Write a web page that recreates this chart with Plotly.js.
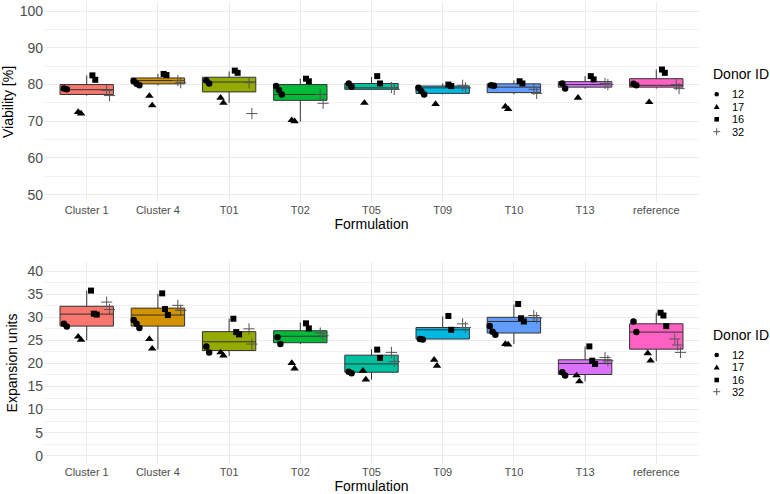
<!DOCTYPE html>
<html>
<head>
<meta charset="utf-8">
<script src="https://cdn.plot.ly/plotly-3.0.1.min.js"></script>
<style>html,body{margin:0;padding:0;background:#fff;}#chart{width:770px;height:494px;}</style>
</head>
<body>
<div id="chart"></div>
<script>
// ---------------- DATA ----------------
const categories = ['Cluster 1','Cluster 4','T01','T02','T05','T09','T10','T13','reference'];
const boxColors = ['#F8766D','#D39200','#93AA00','#00BA38','#00C19F','#00B9E3','#619CFF','#DB72FB','#FF61C3'];
const donors = ['12','17','16','32'];

// Viability [%] box statistics
const viabQ1     = [77.3, 80.2, 78.0, 75.7, 78.7, 77.6, 77.8, 79.3, 79.3];
const viabMedian = [78.6, 81.1, 80.7, 77.3, 79.1, 79.1, 79.3, 80.0, 79.8];
const viabQ3     = [80.0, 81.8, 82.0, 80.0, 80.3, 79.6, 80.2, 80.8, 81.6];
const viabLow    = [77.0, 79.8, 75.0, 69.9, 78.7, 77.3, 77.4, 78.9, 78.9];
const viabHigh   = [82.5, 82.9, 83.6, 81.6, 82.1, 80.3, 81.1, 82.3, 84.1];

// Viability points per donor, per formulation
const viab12 = [[78.9,78.7],[81.0,80.2,79.8],[81.1,80.3],[79.6,78.5,77.3],[80.3,79.4],[79.1,78.2,77.3],[79.8,79.7],[80.3,78.9],[80.2,79.8]];
const viab17 = [[72.5,72.1],[76.9,74.3],[76.4,75.0],[70.3,70.0],[75.0],[74.7],[74.0,73.3],[76.4],[75.2]];
const viab16 = [[82.5,81.3],[82.9,82.6],[83.8,83.2],[81.6,80.9],[82.3,80.3],[80.0,79.6],[80.9,80.3],[82.3,81.4],[84.1,83.2]];
const viab32 = [[78.4,77.0],[81.1,80.5],[80.5,72.1],[77.3,74.9],[79.2,78.7],[79.8,79.1],[78.7,77.6],[80.3,80.0],[80.0,78.9]];

// Expansion units box statistics
const expQ1     = [28.1, 28.1, 22.8, 24.5, 18.1, 25.3, 26.6, 17.6, 23.1];
const expMedian = [30.7, 30.5, 24.7, 25.9, 19.9, 27.3, 29.1, 20.0, 26.8];
const expQ3     = [32.4, 32.0, 26.9, 27.1, 21.8, 27.8, 30.0, 20.8, 28.6];
const expLow    = [25.0, 23.0, 21.6, 24.2, 16.5, 25.3, 24.2, 16.1, 20.5];
const expHigh   = [35.8, 35.1, 29.7, 28.9, 23.1, 30.2, 32.8, 23.7, 31.0];

// Expansion points per donor, per formulation
const exp12 = [[28.6,28.0],[29.4,28.6,27.7],[23.7,22.4],[25.7,24.2],[18.2,17.9],[25.3,25.2],[28.1,26.9,26.2],[18.1,17.4],[29.1,26.8]];
const exp17 = [[25.8,25.1],[25.3,23.2],[22.4,21.7],[20.1,18.9],[18.4,16.5],[20.8,19.5],[24.2,24.1],[17.4,16.1],[22.2,20.6]];
const exp16 = [[35.8,30.8,30.6],[35.2,31.8,30.5],[29.7,26.8,26.3],[28.7,27.6],[23.0,21.2],[30.3,27.3],[32.9,29.8,29.1],[23.7,20.6,19.9],[31.0,30.4,28.1]];
const exp32 = [[33.3,31.7],[32.6,31.5],[27.5,24.2],[26.6,26.0],[22.4,20.4],[28.6,27.8],[30.4,29.9],[21.3,20.6],[25.3,24.0,22.4]];

// ---------------- STYLE ----------------
const FONT = 'Liberation Sans, Arial, sans-serif';
const donorOffset = [-0.3, -0.1, 0.1, 0.3];
const donorMarker = [
  {symbol:'circle', size:6.5, color:'#000'},
  {symbol:'triangle-up', size:7.5, color:'#000'},
  {symbol:'square', size:6, color:'#000'},
  {symbol:'cross-thin-open', size:8, color:'#555', line:{color:'#555', width:1}}
];

const traces = [];
function addPanel(q1, med, q3, lo, hi, pts, xa, ya){
  categories.forEach((c,i)=>{
    traces.push({
      type:'box', x:[i], q1:[q1[i]], median:[med[i]], q3:[q3[i]],
      lowerfence:[lo[i]], upperfence:[hi[i]],
      width:0.75, whiskerwidth:0, boxpoints:false,
      fillcolor:boxColors[i], line:{color:'#333333', width:1},
      xaxis:xa, yaxis:ya, showlegend:false, hoverinfo:'skip', name:c
    });
  });
  pts.forEach((arr,d)=>{
    const xs=[], ys=[];
    arr.forEach((vals,i)=>{
      vals.forEach((v,j)=>{
        xs.push(i + donorOffset[d] + (j-(vals.length-1)/2)*0.04);
        ys.push(v);
      });
    });
    const m = Object.assign({}, donorMarker[d]);
    if(!m.line) m.line = {width:0};
    traces.push({type:'scatter', mode:'markers', x:xs, y:ys, marker:m,
      xaxis:xa, yaxis:ya, showlegend:false, hoverinfo:'skip', name:donors[d]});
  });
}
addPanel(viabQ1, viabMedian, viabQ3, viabLow, viabHigh, [viab12,viab17,viab16,viab32], 'x', 'y');
addPanel(expQ1, expMedian, expQ3, expLow, expHigh, [exp12,exp17,exp16,exp32], 'x2', 'y2');

const GRID = '#EBEBEB';
function xAxis(anchor){
  return {anchor:anchor, range:[-0.6, 8.6], tickmode:'array', tickvals:categories.map((c,i)=>i),
    ticktext:categories, showgrid:true, gridcolor:GRID, gridwidth:1, zeroline:false, showline:false,
    ticks:'', tickfont:{family:FONT, size:11, color:'#4D4D4D'},
    title:{text:'Formulation', font:{family:FONT, size:14, color:'#000'}, standoff:3},
    automargin:false, fixedrange:true};
}
function yAxis(anchor, range, dtick, minor, domain, title){
  return {anchor:anchor, domain:domain, range:range, dtick:dtick, tick0:0,
    showgrid:true, gridcolor:GRID, gridwidth:1, zeroline:false, showline:false, ticks:'',
    minor:{dtick:minor, tick0:0, showgrid:true, gridcolor:'#F1F1F1', gridwidth:1},
    tickfont:{family:FONT, size:14, color:'#4D4D4D'},
    title:{text:title, font:{family:FONT, size:14, color:'#000'}, standoff:6},
    automargin:false, fixedrange:true};
}

// legend drawn with shapes + annotations
const ML=44, MR=71, MT=2, MB=30, W=770, H=494;
const PW=W-ML-MR, PH=H-MT-MB;
const px=X=>(X-ML)/PW, py=Y=>(H-MB-Y)/PH;
const shapes=[], annotations=[];
function legend(titleY, itemYs){
  annotations.push({xref:'paper', yref:'paper', x:px(711), y:py(titleY), xanchor:'left', yanchor:'middle',
    text:'Donor ID', showarrow:false, font:{family:FONT, size:14, color:'#000'}});
  donors.forEach((d,k)=>{
    const ax=px(716.7), ay=py(itemYs[k]);
    const base={xref:'paper', yref:'paper', xsizemode:'pixel', ysizemode:'pixel', xanchor:ax, yanchor:ay};
    if(k===0) shapes.push(Object.assign({type:'circle', x0:-2.3, x1:2.3, y0:-2.3, y1:2.3, fillcolor:'#000', line:{width:0}}, base));
    if(k===1) shapes.push(Object.assign({type:'path', path:'M -3 -2.3 L 3 -2.3 L 0 2.8 Z', fillcolor:'#000', line:{width:0}}, base));
    if(k===2) shapes.push(Object.assign({type:'rect', x0:-2.3, x1:2.3, y0:-2.3, y1:2.3, fillcolor:'#000', line:{width:0}}, base));
    if(k===3) shapes.push(Object.assign({type:'path', path:'M -3.5 0 L 3.5 0 M 0 -3.5 L 0 3.5', line:{color:'#555', width:1}}, base));
    annotations.push({xref:'paper', yref:'paper', x:px(730), y:ay, xanchor:'left', yanchor:'middle',
      text:d, showarrow:false, font:{family:FONT, size:11, color:'#000'}});
  });
}
legend(74, [94.3,106.7,119.3,131.7]);
legend(335, [355,367.3,380,391.7]);

const layout = {
  width:W, height:H, margin:{l:ML, r:MR, t:MT, b:MB, pad:0},
  paper_bgcolor:'#fff', plot_bgcolor:'#fff', showlegend:false, boxmode:'overlay',
  font:{family:FONT},
  xaxis:xAxis('y'), xaxis2:xAxis('y2'),
  yaxis:yAxis('x', [48, 102.5], 10, 5, [py(202), 1], 'Viability [%]'),
  yaxis2:yAxis('x2', [-1.8, 42], 5, 2.5, [0, py(262)], 'Expansion units'),
  shapes:shapes, annotations:annotations
};
Plotly.newPlot('chart', traces, layout, {displayModeBar:false, staticPlot:true});
</script>
</body>
</html>
